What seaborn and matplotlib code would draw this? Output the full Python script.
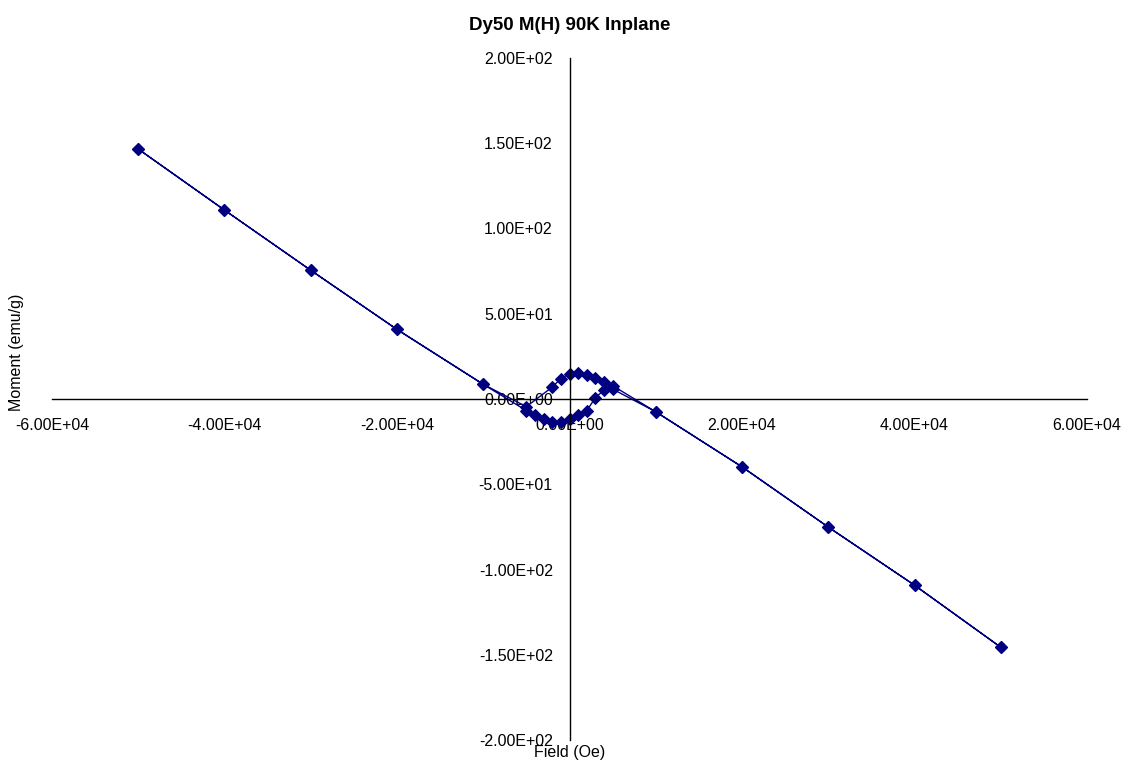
import matplotlib
matplotlib.use("Agg")
import matplotlib.pyplot as plt
import seaborn as sns
import pandas as pd
from matplotlib.ticker import FuncFormatter

# Descending sweep (+50 kOe -> -50 kOe)
field_down = [50000, 40000, 30000, 20000, 10000, 5000, 4000, 3000, 2000, 1000, 0,
              -1000, -2000, -5000, -10000, -20000, -30000, -40000, -50000]
moment_down = [-145.6, -109.2, -75.1, -39.8, -7.5, 7.8, 9.8, 12.3, 14.2, 15.5, 14.8,
               12.0, 7.0, -4.5, 8.6, 40.8, 75.5, 110.8, 146.6]

# Ascending sweep (-50 kOe -> +50 kOe)
field_up = [-50000, -40000, -30000, -20000, -10000, -5000, -4000, -3000, -2000, -1000, 0,
            1000, 2000, 3000, 4000, 5000, 10000, 20000, 30000, 40000, 50000]
moment_up = [146.6, 110.8, 75.5, 40.8, 8.6, -6.8, -9.4, -11.5, -13.4, -13.6, -11.8,
             -9.4, -6.9, 0.8, 5.2, 5.8, -7.5, -39.8, -75.1, -109.2, -145.6]

x_ticks = [-60000, -40000, -20000, 0, 20000, 40000, 60000]
y_ticks = [-200, -150, -100, -50, 0, 50, 100, 150, 200]

title = "Dy50 M(H) 90K Inplane"
xlabel = "Field (Oe)"
ylabel = "Moment (emu/g)"

sns.set_style("white")
plt.rcParams["font.family"] = ["Liberation Sans", "DejaVu Sans"]
plt.rcParams["text.color"] = "black"
plt.rcParams["xtick.color"] = "black"
plt.rcParams["ytick.color"] = "black"

df = pd.DataFrame({
    "field": field_down + field_up,
    "moment": moment_down + moment_up,
})

W, H = 1130, 764
fig = plt.figure(figsize=(W / 100, H / 100), dpi=100)
ax = fig.add_axes([52 / W, 1 - 740 / H, (1087 - 52) / W, (740 - 58) / H])

navy = "#000080"
sns.lineplot(data=df, x="field", y="moment", sort=False, estimator=None,
             color=navy, linewidth=1.0, marker="D", markersize=6.5,
             markeredgecolor=navy, markerfacecolor=navy, ax=ax)

ax.set_xlim(-60000, 60000)
ax.set_ylim(-200, 200)
ax.set_xticks(x_ticks)
ax.set_yticks(y_ticks)
fmt = FuncFormatter(lambda v, p: f"{v:.2E}")
ax.xaxis.set_major_formatter(fmt)
ax.yaxis.set_major_formatter(fmt)

for s in ["top", "right"]:
    ax.spines[s].set_visible(False)
for s in ["left", "bottom"]:
    ax.spines[s].set_position("zero")
    ax.spines[s].set_color("black")
    ax.spines[s].set_linewidth(1.0)

ax.tick_params(axis="x", length=0, pad=14, labelsize=11.5, labelcolor="black")
ax.tick_params(axis="y", length=0, pad=12, labelsize=11.5, labelcolor="black")
ax.set_xlabel("")
ax.set_ylabel("")
ax.grid(False)
ax.patch.set_alpha(0)

fig.text(570 / W, 1 - 25 / H, title, ha="center", va="center",
         fontsize=13.5, fontweight="bold", color="black")
fig.text(570 / W, 1 - 752 / H, xlabel, ha="center", va="center",
         fontsize=11.5, color="black")
fig.text(17 / W, 1 - 352 / H, ylabel, ha="center", va="center",
         rotation=90, fontsize=11.5, color="black")

fig.savefig("out.png", dpi=100, facecolor="white")
